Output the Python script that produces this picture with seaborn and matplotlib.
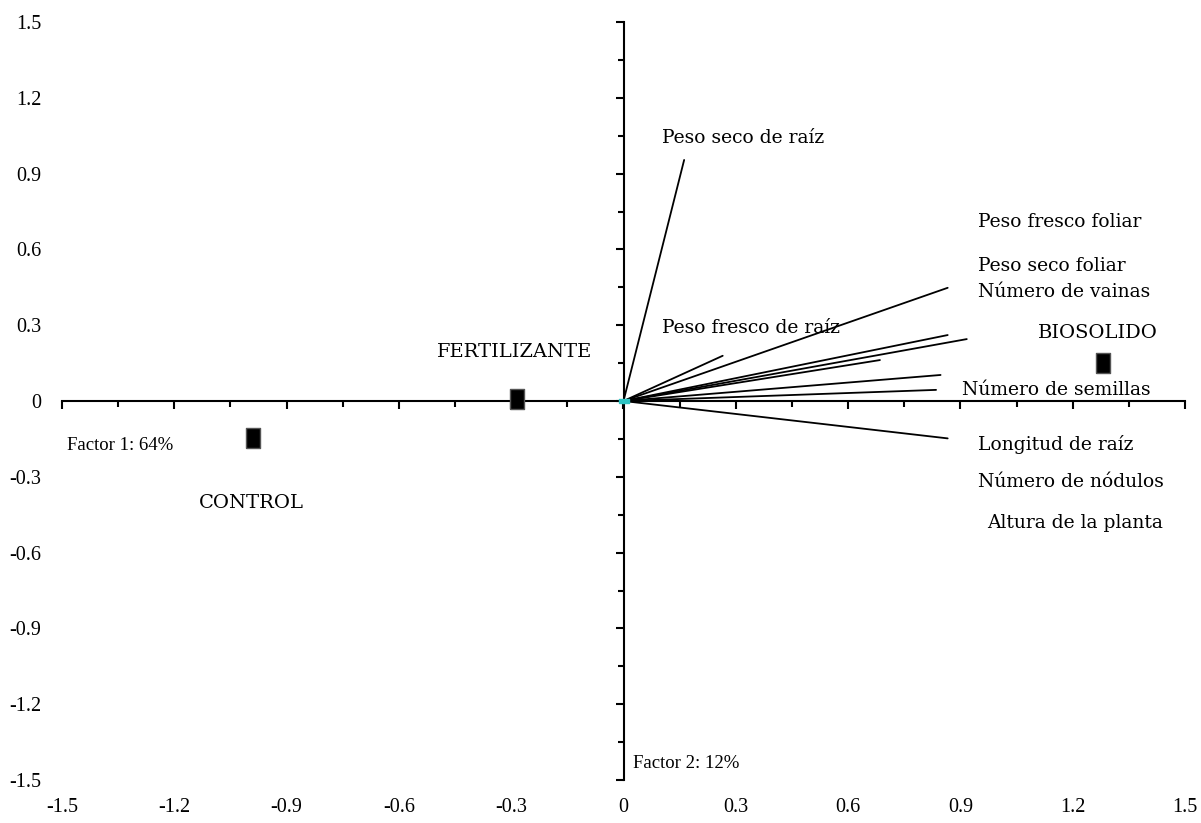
import numpy as np
import pandas as pd
import seaborn as sns
import matplotlib.pyplot as plt
from matplotlib.ticker import MultipleLocator

# treatments (scores on factor 1 / factor 2)
treatments = ["CONTROL", "FERTILIZANTE", "BIOSOLIDO"]
treat_f1 = [-0.99, -0.285, 1.281]
treat_f2 = [-0.146, 0.008, 0.150]

# variable loadings
variables = ["Peso seco de raíz", "Peso fresco de raíz", "Peso fresco foliar",
             "Peso seco foliar", "Número de vainas", "Número de semillas",
             "Número de nódulos", "Altura de la planta", "Longitud de raíz"]
var_f1 = [0.162, 0.265, 0.866, 0.866, 0.917, 0.685, 0.847, 0.835, 0.866]
var_f2 = [0.954, 0.179, 0.448, 0.261, 0.245, 0.162, 0.103, 0.044, -0.148]

tick_values = [-1.5, -1.2, -0.9, -0.6, -0.3, 0, 0.3, 0.6, 0.9, 1.2, 1.5]
tick_labels = ["-1.5", "-1.2", "-0.9", "-0.6", "-0.3", "0", "0.3", "0.6", "0.9", "1.2", "1.5"]

# where the text labels sit (not at the arrow tips in the original)
var_label_pos = [(0.103, 1.041), (0.103, 0.289), (0.947, 0.708), (0.947, 0.534),
                 (0.947, 0.431), (0.904, 0.044), (0.947, -0.321), (0.971, -0.483),
                 (0.947, -0.174)]
treat_label_pos = [(-0.995, -0.404), (-0.291, 0.194), (1.268, 0.269)]

sns.set_style("white")
plt.rcParams["text.color"] = "black"
plt.rcParams["xtick.color"] = "black"
plt.rcParams["ytick.color"] = "black"

fig = plt.figure(figsize=(12.01, 8.23), dpi=100)
rect = [62 / 1201, 43 / 823, 1123 / 1201, 758 / 823]

# back axes: only the outer tick labels
ax = fig.add_axes(rect)
ax.set_xlim(-1.5, 1.5)
ax.set_ylim(-1.5, 1.5)
ax.set_xticks(tick_values)
ax.set_xticklabels(tick_labels)
ax.set_yticks(tick_values)
ax.set_yticklabels(tick_labels)
for s in ax.spines.values():
    s.set_visible(False)
ax.tick_params(axis="both", length=0, labelsize=14.5, labelcolor="black")
ax.tick_params(axis="x", pad=13)
ax.tick_params(axis="y", pad=15)
for lab in ax.get_xticklabels() + ax.get_yticklabels():
    lab.set_fontfamily("Liberation Serif")

# front axes: cross through zero + data
ax2 = fig.add_axes(rect, facecolor="none")
ax2.set_xlim(-1.5, 1.5)
ax2.set_ylim(-1.5, 1.5)
ax2.spines["left"].set_position(("data", 0))
ax2.spines["bottom"].set_position(("data", 0))
ax2.spines["right"].set_visible(False)
ax2.spines["top"].set_visible(False)
for side in ["left", "bottom"]:
    ax2.spines[side].set_linewidth(1.5)
    ax2.spines[side].set_color("black")
ax2.xaxis.set_major_locator(MultipleLocator(0.3))
ax2.xaxis.set_minor_locator(MultipleLocator(0.15))
ax2.yaxis.set_major_locator(MultipleLocator(0.3))
ax2.yaxis.set_minor_locator(MultipleLocator(0.15))
ax2.tick_params(which="both", bottom=True, left=True, top=False, right=False,
                direction="out", width=1.5, color="black",
                labelbottom=False, labelleft=False)
ax2.tick_params(which="major", length=6)
ax2.tick_params(which="minor", length=4)

# vectors from origin
rows = []
for name, x, y in zip(variables, var_f1, var_f2):
    rows.append({"var": name, "f1": 0.0, "f2": 0.0})
    rows.append({"var": name, "f1": x, "f2": y})
vec_df = pd.DataFrame(rows)
sns.lineplot(data=vec_df, x="f1", y="f2", units="var", estimator=None, sort=False,
             color="black", linewidth=1.3, ax=ax2, legend=False)

# origin marker
ax2.plot([0], [0], marker=[(-1, -0.5), (1, -0.5), (1, 0.5), (-1, 0.5), (-1, -0.5)],
         markersize=7, color="#2EC4C4", zorder=5, clip_on=False)

# treatment points
treat_df = pd.DataFrame({"name": treatments, "f1": treat_f1, "f2": treat_f2})
sns.scatterplot(data=treat_df, x="f1", y="f2", ax=ax2, color="black",
                marker=[(-0.7, -1), (0.7, -1), (0.7, 1), (-0.7, 1), (-0.7, -1)],
                s=210, edgecolor="#555555", linewidth=1, zorder=6, legend=False)

for name, (lx, ly) in zip(variables, var_label_pos):
    ax2.text(lx, ly, name, ha="left", va="center", fontsize=13.5,
             family="DejaVu Serif", color="black")
for name, (lx, ly) in zip(treatments, treat_label_pos):
    ax2.text(lx, ly, name, ha="center", va="center", fontsize=14,
             family="DejaVu Serif", color="black")

ax2.text(-1.487, -0.178, "Factor 1: 64%", ha="left", va="center", fontsize=13.5,
         family="Liberation Serif", color="black")
ax2.text(0.025, -1.433, "Factor 2: 12%", ha="left", va="center", fontsize=13.5,
         family="Liberation Serif", color="black")
ax2.set_xlabel("")
ax2.set_ylabel("")

fig.savefig("out.png", dpi=100)
